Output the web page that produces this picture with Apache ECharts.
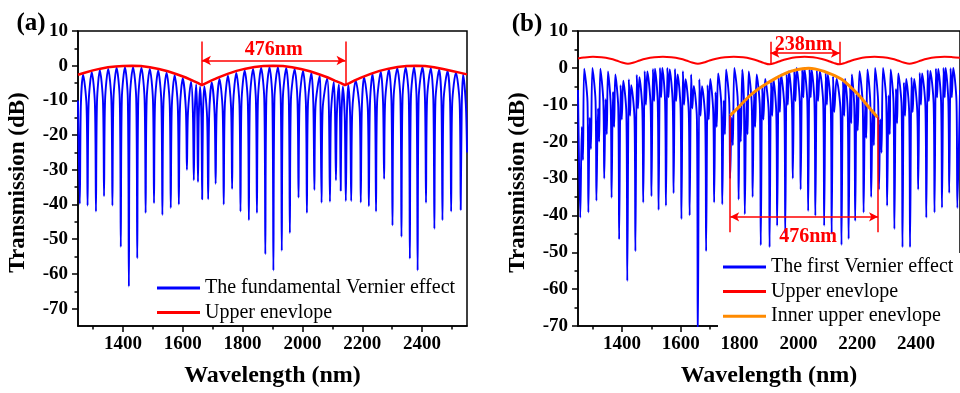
<!DOCTYPE html>
<html><head><meta charset="utf-8">
<script src="https://cdn.jsdelivr.net/npm/echarts@6/dist/echarts.min.js"></script>
<style>html,body{margin:0;padding:0;background:#fff}#c{width:960px;height:393px}</style>
</head><body><div id="c"></div><script>
// ---------- Panel (a): fundamental Vernier effect ----------
const edgesA = [[1250,-10],[2546,-11],[2550,-25]];
const peaksA = [[1267,-2.6],[1296,-1.9],[1323,-1.3],[1351,-0.9],[1379,-0.6],[1407,-0.45],[1434,-0.4],[1462,-0.55],[1490,-0.9],[1518,-1.4],[1546,-2.0],[1573,-2.7],[1600,-3.6],[1628,-4.6],[1645,-5.4],[1658,-6.0],[1672,-5.9],[1697,-4.8],[1723,-3.8],[1751,-2.9],[1779,-2.1],[1807,-1.4],[1835,-0.9],[1862,-0.6],[1890,-0.4],[1918,-0.45],[1946,-0.65],[1974,-1.0],[2002,-1.5],[2030,-2.1],[2058,-2.9],[2083,-3.7],[2105,-4.7],[2122,-5.4],[2135,-6.0],[2153,-5.5],[2178,-4.3],[2206,-3.3],[2234,-2.4],[2262,-1.7],[2289,-1.1],[2317,-0.7],[2345,-0.5],[2373,-0.4],[2401,-0.45],[2429,-0.7],[2457,-1.1],[2485,-1.5],[2513,-2.0],[2537,-2.5]];
const troughsA = [[1256,-39.8],[1282,-40.3],[1310,-42],[1337,-37.6],[1365,-40.3],[1393,-52.2],[1420,-63.6],[1448,-55.5],[1476,-42.4],[1504,-39.6],[1532,-43],[1560,-41],[1587,-40],[1614,-30],[1637,-33],[1651,-33.5],[1665,-38.5],[1685,-38.5],[1710,-34],[1737,-40],[1765,-35.5],[1793,-42],[1821,-44.5],[1848,-42.4],[1876,-54.3],[1903,-59],[1931,-53.3],[1958,-48.2],[1987,-38],[2015,-42.4],[2040,-35.8],[2064,-39.5],[2092,-39.2],[2112,-33],[2128,-36],[2145,-39],[2163,-39],[2195,-39.4],[2222,-40.5],[2246,-42],[2273,-32.6],[2301,-46],[2331,-49.3],[2359,-55.6],[2385,-59],[2413,-39.5],[2441,-47],[2468,-44.5],[2497,-42],[2529,-41.5]];
const shouldersA = [[1259.5,-11.5],[1278.5,-11.5],[1285.5,-10.9],[1306.5,-10.9],[1313.5,-10.3],[1333.5,-10.3],[1340.5,-9.9],[1361.5,-9.9],[1368.5,-9.6],[1389.5,-9.6],[1396.5,-9.5],[1416.5,-9.5],[1423.5,-9.4],[1444.5,-9.4],[1451.5,-9.6],[1472.5,-9.6],[1479.5,-9.9],[1500.5,-9.9],[1507.5,-10.4],[1528.5,-10.4],[1535.5,-11],[1556.5,-11],[1563.5,-11.7],[1583.5,-11.7],[1590.5,-12.6],[1610.5,-12.6],[1617.5,-13.6],[1634,-13.6],[1640,-14.4],[1648.5,-14.4],[1653.5,-15],[1662.5,-15],[1667.5,-14.9],[1681.5,-14.9],[1688.5,-13.8],[1706.5,-13.8],[1713.5,-12.8],[1733.5,-12.8],[1740.5,-11.9],[1761.5,-11.9],[1768.5,-11.1],[1789.5,-11.1],[1796.5,-10.4],[1817.5,-10.4],[1824.5,-9.9],[1844.5,-9.9],[1851.5,-9.6],[1872.5,-9.6],[1879.5,-9.4],[1899.5,-9.4],[1906.5,-9.45],[1927.5,-9.45],[1934.5,-9.65],[1954.5,-9.65],[1961.5,-10],[1983.5,-10],[1990.5,-10.5],[2011.5,-10.5],[2018.5,-11.1],[2036.5,-11.1],[2043.5,-11.9],[2060.5,-11.9],[2067.5,-12.7],[2088.5,-12.7],[2095.5,-13.7],[2109,-13.7],[2115,-14.4],[2125.5,-14.4],[2130.5,-15],[2141.5,-15],[2148.5,-14.5],[2159.5,-14.5],[2166.5,-13.3],[2191.5,-13.3],[2198.5,-12.3],[2218.5,-12.3],[2225.5,-11.4],[2242.5,-11.4],[2249.5,-10.7],[2269.5,-10.7],[2276.5,-10.1],[2297.5,-10.1],[2304.5,-9.7],[2327.5,-9.7],[2334.5,-9.5],[2355.5,-9.5],[2362.5,-9.4],[2381.5,-9.4],[2388.5,-9.45],[2409.5,-9.45],[2416.5,-9.7],[2437.5,-9.7],[2444.5,-10.1],[2464.5,-10.1],[2471.5,-10.5],[2493.5,-10.5],[2500.5,-11],[2525.5,-11],[2532.5,-11.5]];
const envA = [[1250,-2.6],[1275,-1.95],[1300,-1.35],[1325,-0.85],[1350,-0.45],[1375,-0.2],[1400,-0.05],[1430,0],[1460,-0.1],[1490,-0.45],[1520,-0.95],[1550,-1.6],[1580,-2.45],[1610,-3.4],[1635,-4.35],[1650,-4.95],[1664,-5.6],[1678,-5.0],[1695,-4.3],[1720,-3.35],[1750,-2.35],[1780,-1.5],[1810,-0.85],[1840,-0.35],[1870,-0.08],[1902,0],[1935,-0.1],[1965,-0.45],[1995,-0.95],[2025,-1.6],[2055,-2.45],[2085,-3.4],[2110,-4.35],[2127,-4.95],[2142,-5.6],[2157,-5.0],[2173,-4.3],[2198,-3.35],[2228,-2.35],[2258,-1.5],[2288,-0.85],[2318,-0.35],[2348,-0.08],[2380,0],[2410,-0.1],[2440,-0.45],[2470,-0.95],[2500,-1.5],[2525,-2.0],[2550,-2.5]];

// ---------- Panel (b): first Vernier effect ----------
const edgesB = [[1250,-6],[2550,-6]];
const peaksB = [[1271,-0.2],[1299,0],[1326,-0.2],[1352,-1.0],[1377,-1.8],[1404,-3.5],[1431,-4.7],[1459,-2.5],[1486,-1.0],[1512,-0.2],[1537,0],[1562,-0.4],[1589,-1.8],[1616,-3.1],[1644,-4.9],[1672,-5.0],[1700,-3.0],[1727,-1.5],[1754,-0.4],[1782,0],[1809,-0.5],[1831,-1.0],[1858,-1.8],[1887,-3.0],[1915,-3.0],[1941,-1.8],[1968,-0.9],[1994,0],[2020,0],[2045,-0.4],[2073,-0.9],[2100,-1.8],[2130,-3.0],[2159,-3.0],[2182,-1.8],[2208,-0.9],[2235,-0.4],[2261,0],[2288,0],[2314,-0.4],[2340,-1.5],[2367,-3.0],[2394,-3.0],[2421,-1.5],[2449,-0.8],[2476,-0.3],[2501,0],[2527,0]];
const troughsB = [[1257.7,-40.6],[1285.3,-39.2],[1312.7,-36],[1339.3,-30],[1364.3,-35.2],[1390,-46.5],[1417.7,-57.8],[1445.3,-49.7],[1472,-36.5],[1500,-34.8],[1524.3,-38.5],[1549.3,-37.4],[1575.3,-34],[1602,-41],[1630,-40],[1657.7,-75],[1686,-49.7],[1713.3,-36.5],[1741,-37],[1767.7,-30],[1796.7,-35.7],[1817.7,-39.7],[1844.3,-35],[1872,-48.1],[1902,-48.6],[1927.7,-42.8],[1955.3,-45],[1981,-30],[2007.7,-33],[2033.3,-38.8],[2057.7,-40.1],[2087.7,-42.8],[2113.3,-45],[2146.7,-48],[2171,-46.4],[2193.3,-41.5],[2222,-39.2],[2247.7,-35],[2274.3,-33],[2302,-37.4],[2326.7,-43.7],[2354.3,-48.6],[2380,-48.6],[2407.7,-33],[2435.3,-40.6],[2463.3,-39.2],[2488.7,-37.9],[2513.3,-33.9],[2541,-38]];
const shouldersB = [[1282.3,-9.2],[1309.7,-9],[1336.3,-9.2],[1361.3,-10],[1387,-10.8],[1414.7,-12.5],[1442.3,-13.7],[1469,-11.5],[1497,-10],[1521.3,-9.2],[1546.3,-9],[1572.3,-9.4],[1599,-10.8],[1627,-12.1],[1654.7,-13.9],[1683,-14],[1710.3,-12],[1738,-10.5],[1764.7,-9.4],[1793.7,-9],[1814.7,-9.5],[1841.3,-10],[1869,-10.8],[1899,-12],[1924.7,-12],[1952.3,-10.8],[1978,-9.9],[2004.7,-9],[2030.3,-9],[2054.7,-9.4],[2084.7,-9.9],[2110.3,-10.8],[2143.7,-12],[2168,-12],[2190.3,-10.8],[2219,-9.9],[2244.7,-9.4],[2271.3,-9],[2299,-9],[2323.7,-9.4],[2351.3,-10.5],[2377,-12],[2404.7,-12],[2432.3,-10.5],[2460.3,-9.8],[2485.7,-9.3],[2510.3,-9],[2538,-9]];
const subPeaksB = [[1263,-16],[1290,-13.5],[1318,-11],[1344,-8.5],[1369,-6.5],[1395,-4.7],[1423,-3.1],[1450,-1.9],[1477,-0.9],[1505,-0.3],[1529,0],[1554,0],[1580,-0.3],[1607,-0.9],[1635,-1.8],[1663,-3.1],[1691,-4.7],[1718,-6.6],[1746,-8.8],[1773,-13.5],[1800,-10.8],[1823,-8.8],[1849,-7.0],[1877,-5.4],[1907,-3.9],[1933,-2.7],[1960,-1.7],[1986,-1.0],[2013,-0.5],[2038,-0.4],[2063,-0.7],[2093,-1.4],[2118,-2.3],[2152,-3.6],[2176,-5.3],[2198,-7.1],[2227,-9.6],[2253,-11.8],[2279,-14],[2307,-7.5],[2332,-5.7],[2359,-4.0],[2385,-2.6],[2413,-1.4],[2440,-0.6],[2468,-0.2],[2494,0],[2518,-0.1]];
const midDipsB = [[1267,-25],[1294,-22],[1322,-20],[1348,-18],[1373,-16],[1399,-14],[1427,-13],[1454,-11],[1481,-10],[1509,-9],[1533,-8],[1558,-8],[1584,-9],[1611,-10],[1639,-11],[1667,-13],[1695,-14],[1722,-16],[1750,-18],[1777,-21],[1804,-20],[1827,-18],[1853,-16],[1881,-14],[1911,-13],[1937,-12],[1964,-10],[1990,-9],[2017,-8],[2042,-8],[2067,-9],[2097,-10],[2122,-12],[2156,-13],[2180,-15],[2202,-17],[2231,-19],[2257,-21],[2283,-23],[2311,-18],[2336,-15],[2363,-13],[2389,-12],[2417,-10],[2444,-9],[2472,-8],[2498,-8],[2522,-8]];
const envB = [[1250,2.55],[1270,2.8],[1301,3.0],[1330,2.85],[1360,2.45],[1380,2.0],[1400,1.45],[1420,1.1],[1440,1.45],[1460,2.0],[1480,2.45],[1510,2.85],[1539,3.0],[1568,2.85],[1598,2.45],[1618,2.0],[1638,1.45],[1658,1.1],[1678,1.45],[1698,2.0],[1720,2.45],[1750,2.85],[1780,3.0],[1812,2.85],[1842,2.4],[1862,1.95],[1882,1.35],[1902,0.95],[1921,1.35],[1941,1.95],[1962,2.4],[1992,2.85],[2021,3.0],[2050,2.85],[2080,2.4],[2100,1.95],[2120,1.35],[2140,0.95],[2159,1.35],[2179,1.95],[2200,2.4],[2230,2.85],[2259,3.0],[2288,2.85],[2318,2.45],[2338,2.0],[2358,1.45],[2378,1.1],[2398,1.45],[2418,2.0],[2438,2.45],[2468,2.85],[2497,3.0],[2525,2.9],[2550,2.75]];
const innerB = [[1768,-12.9],[1796,-10.7],[1820,-8.7],[1841,-7.1],[1870,-5.4],[1897,-4.0],[1925,-2.7],[1952,-1.6],[1980,-0.8],[2008,-0.3],[2035,-0.1],[2063,-0.4],[2090,-1.0],[2119,-1.95],[2147,-3.1],[2175,-5.0],[2202,-7.1],[2235,-10.2],[2269,-13.4]];

// ---------- Ticks ----------
const xMajor = [1400,1600,1800,2000,2200,2400];
const xMinor = [1300,1500,1700,1900,2100,2300,2500];
const yMajor = [10,0,-10,-20,-30,-40,-50,-60,-70];
const yMinor = [5,-5,-15,-25,-35,-45,-55,-65];

// ---------- Annotations ----------
const annA = {x1:1664, x2:2144, yTop:7.0, yBot:-5.6, yArrow:1.5, text:'476nm', tx:1904, ty:4.6};
const annB1 = {x1:1905, x2:2141, yTop:7.1, yBot:0.9, yArrow:4.0, text:'238nm', tx:2018, ty:6.3};
const annB2 = {x1:1768, x2:2271, yTop1:-12.9, yTop2:-13.4, yBot:-44.6, yArrow:-40.4, text:'476nm', tx:2033, ty:-45.7};

const F = "'Liberation Serif','Times New Roman',serif";
const merge = (...arrs) => [].concat(...arrs).slice().sort((a,b)=>a[0]-b[0]);
const plain = v => String(v);

function xMain(g){return {type:'value',gridIndex:g,min:1250,max:2550,position:'bottom',
  name:'Wavelength (nm)',nameLocation:'middle',nameGap:38,
  nameTextStyle:{fontFamily:F,fontWeight:'bold',fontSize:24,color:'#000'},
  axisLine:{show:true,onZero:false,lineStyle:{color:'#000',width:1.5}},
  axisTick:{show:true,length:6,lineStyle:{color:'#000',width:1.5},customValues:xMajor},
  axisLabel:{customValues:xMajor,formatter:plain,fontFamily:F,fontWeight:'bold',fontSize:19,color:'#000',margin:9},
  splitLine:{show:false}};}
function xMin(g){return {type:'value',gridIndex:g,min:1250,max:2550,position:'bottom',
  axisLine:{show:false,onZero:false},
  axisTick:{show:true,length:3.5,lineStyle:{color:'#000',width:1.5},customValues:xMinor},
  axisLabel:{show:false},splitLine:{show:false}};}
function yMain(g,min){return {type:'value',gridIndex:g,min:min,max:10,position:'left',
  name:'Transmission (dB)',nameLocation:'middle',nameGap:48,
  nameTextStyle:{fontFamily:F,fontWeight:'bold',fontSize:23,color:'#000',padding:[0,0,0,-8]},
  axisLine:{show:true,onZero:false,lineStyle:{color:'#000',width:1.5}},
  axisTick:{show:true,length:6,lineStyle:{color:'#000',width:1.5},customValues:yMajor},
  axisLabel:{customValues:yMajor,formatter:plain,fontFamily:F,fontWeight:'bold',fontSize:19,color:'#000',margin:10},
  splitLine:{show:false}};}
function yMin(g,min){return {type:'value',gridIndex:g,min:min,max:10,position:'left',
  axisLine:{show:false,onZero:false},
  axisTick:{show:true,length:3.5,lineStyle:{color:'#000',width:1.5},customValues:yMinor},
  axisLabel:{show:false},splitLine:{show:false}};}

const red = '#ff0000', blue = '#0000ff', orange = '#ff8a00';
const mlBase = {silent:true,symbol:['none','none'],label:{show:false},animation:false,
  lineStyle:{color:red,width:1.5,type:'solid'},emphasis:{disabled:true}};
const arrowPair = (x1,x2,y)=>[{coord:[x1,y],symbol:'arrow',symbolSize:[7,9]},{coord:[x2,y],symbol:'arrow',symbolSize:[7,9]}];

const legendText = {fontFamily:F,fontSize:20,color:'#000',lineHeight:22};

const option = {
  animation:false,
  backgroundColor:'#fff',
  grid:[
    {left:78,top:31,width:389,height:299,show:true,borderColor:'#000',borderWidth:1.5,backgroundColor:'transparent'},
    {left:578,top:31,width:390,height:299,show:true,borderColor:'#000',borderWidth:1.5,backgroundColor:'transparent'}
  ],
  xAxis:[xMain(0),xMin(0),xMain(1),xMin(1)],
  yAxis:[yMain(0,-75),yMin(0,-75),yMain(1,-70),yMin(1,-70)],
  legend:[
    {data:['The fundamental Vernier effect','Upper enevlope'],orient:'vertical',left:157,top:277,padding:0,
     itemWidth:43,itemHeight:3,itemGap:2.4,icon:'rect',textStyle:legendText,selectedMode:false},
    {data:['The first Vernier effect','Upper enevlope','Inner upper enevlope'],orient:'vertical',left:718,top:253,
     padding:[3,40,5,5],backgroundColor:'#fff',itemWidth:43,itemHeight:3,itemGap:2.6,icon:'rect',
     textStyle:legendText,selectedMode:false,z:10}
  ],
  series:[
    {type:'line',name:'The fundamental Vernier effect',xAxisIndex:0,yAxisIndex:0,data:merge(edgesA,peaksA,troughsA,shouldersA),
     symbol:'none',showSymbol:false,smooth:0.3,lineStyle:{color:blue,width:1.9},itemStyle:{color:blue}},
    {type:'line',name:'Upper enevlope',xAxisIndex:0,yAxisIndex:0,data:envA,
     symbol:'none',showSymbol:false,lineStyle:{color:red,width:2.5},itemStyle:{color:red},
     markLine:Object.assign({},mlBase,{data:[
       [{coord:[annA.x1,annA.yTop]},{coord:[annA.x1,annA.yBot]}],
       [{coord:[annA.x2,annA.yTop]},{coord:[annA.x2,annA.yBot]}],
       arrowPair(annA.x1,annA.x2,annA.yArrow)]})},
    {type:'line',name:'The first Vernier effect',xAxisIndex:2,yAxisIndex:2,data:merge(edgesB,peaksB,troughsB,shouldersB,subPeaksB,midDipsB),
     symbol:'none',showSymbol:false,smooth:0.3,lineStyle:{color:blue,width:1.9},itemStyle:{color:blue}},
    {type:'line',name:'Upper enevlope',xAxisIndex:2,yAxisIndex:2,data:envB,
     symbol:'none',showSymbol:false,smooth:0.3,lineStyle:{color:red,width:2},itemStyle:{color:red},
     markLine:Object.assign({},mlBase,{data:[
       [{coord:[annB1.x1,annB1.yTop]},{coord:[annB1.x1,annB1.yBot]}],
       [{coord:[annB1.x2,annB1.yTop]},{coord:[annB1.x2,annB1.yBot]}],
       arrowPair(annB1.x1,annB1.x2,annB1.yArrow),
       [{coord:[annB2.x1,annB2.yTop1]},{coord:[annB2.x1,annB2.yBot]}],
       [{coord:[annB2.x2,annB2.yTop2]},{coord:[annB2.x2,annB2.yBot]}],
       arrowPair(annB2.x1,annB2.x2,annB2.yArrow)]})},
    {type:'line',name:'Inner upper enevlope',xAxisIndex:2,yAxisIndex:2,data:innerB,
     symbol:'none',showSymbol:false,smooth:true,lineStyle:{color:orange,width:3},itemStyle:{color:orange}}
  ]
};

const chart = echarts.init(document.getElementById('c'),null,{renderer:'canvas'});
chart.setOption(option);

function txt(p,text,color,size){return {type:'text',x:p[0],y:p[1],z:20,
  style:{text:text,fill:color,font:'bold '+size+'px '+F,align:'center',verticalAlign:'middle',textAlign:'center',textVerticalAlign:'middle'}};}
const pA = chart.convertToPixel({xAxisIndex:0,yAxisIndex:0},[annA.tx,annA.ty]);
const pB1 = chart.convertToPixel({xAxisIndex:2,yAxisIndex:2},[annB1.tx,annB1.ty]);
const pB2 = chart.convertToPixel({xAxisIndex:2,yAxisIndex:2},[annB2.tx,annB2.ty]);
chart.setOption({graphic:[
  txt(pA,annA.text,red,20), txt(pB1,annB1.text,red,20), txt(pB2,annB2.text,red,20),
  txt([31,24],'(a)','#000',25), txt([527,25],'(b)','#000',25)
]});
</script></body></html>
